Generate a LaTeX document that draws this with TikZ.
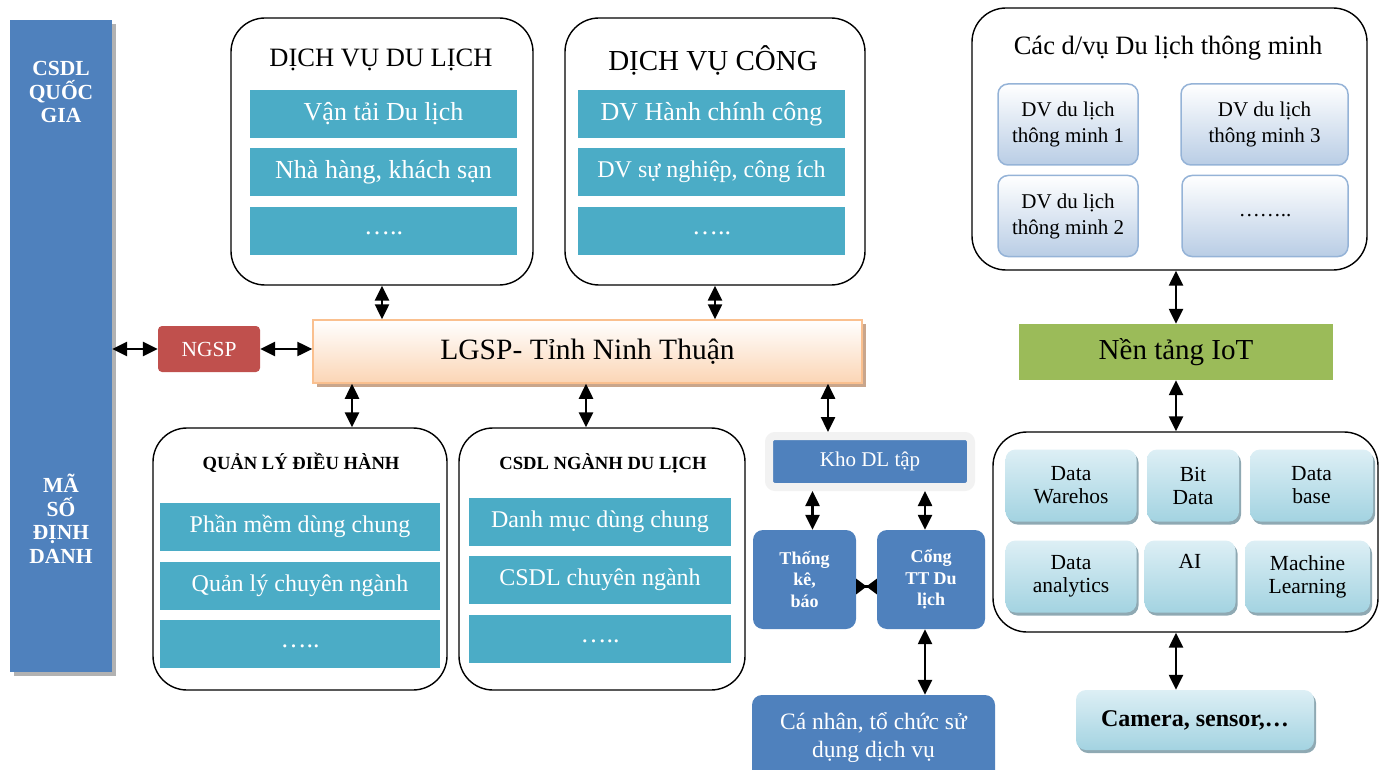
\documentclass[tikz,border=0pt]{standalone}
\usepackage{fontspec}
\setmainfont{Liberation Serif}
\usetikzlibrary{arrows.meta,shadows}

\definecolor{barblue}{HTML}{4F81BD}
\definecolor{rowteal}{HTML}{4BACC6}
\definecolor{ngspred}{HTML}{C0504D}
\definecolor{iotgreen}{HTML}{9BBB59}
\definecolor{lgspedge}{HTML}{FAC08F}
\definecolor{lgspfill}{HTML}{FBD5B5}
\definecolor{lgspshade}{HTML}{C9A68C}
\definecolor{smartedge}{HTML}{95B3D7}
\definecolor{smartfill}{HTML}{B9CDE5}
\definecolor{bdlight}{HTML}{DDEFF5}
\definecolor{bddark}{HTML}{A3D3E1}
\definecolor{bdshade}{HTML}{8FA9B3}

\begin{document}
\begin{tikzpicture}[x=1pt,y=-1pt,
    link/.style = {{Triangle[length=15pt,width=14pt]}-{Triangle[length=15pt,width=14pt]},
        line width=2.5pt},
    pinch/.style = {{Triangle[reversed,length=10.5pt,width=15pt]}-{Triangle[reversed,length=10.5pt,width=15pt]},
        line width=2.5pt},
    panel/.style = {draw, line width=1.4pt, rounded corners=34pt},
    row/.style = {fill=rowteal, text=white, minimum height=48pt,
        font=\fontsize{26}{30}\selectfont},
    bluebox/.style = {fill=barblue, text=white, rounded corners=10pt, align=center},
    smartcell/.style = {draw=smartedge, line width=1.5pt, rounded corners=10pt,
        top color=white, bottom color=smartfill, align=center,
        minimum height=81pt, font=\fontsize{21}{26}\selectfont},
    bdcell/.style = {rounded corners=10pt, top color=bdlight, bottom color=bddark,
        drop shadow={shadow xshift=2pt, shadow yshift=-3pt, fill=bdshade, opacity=1},
        align=center, minimum height=72pt, font=\fontsize{21.5}{23}\selectfont}]

\useasboundingbox (0,0) rectangle (1380,770);

% CSDL quoc gia
\node[fill=barblue, minimum width=102pt, minimum height=652pt,
    drop shadow={shadow xshift=4pt, shadow yshift=-4pt, fill=gray!60, opacity=1}]
    (csdl) at (61,346) {};
\node[text=white, align=center, font=\bfseries\fontsize{21.5}{23.5}\selectfont]
    (csdltop) at (61,92) {CSDL\\QUỐC\\GIA};
\node[text=white, align=center, font=\bfseries\fontsize{21.5}{23.5}\selectfont]
    (csdlbottom) at (61,519) {MÃ\\SỐ\\ĐỊNH\\DANH};

% NGSP and LGSP
\node[fill=ngspred, text=white, rounded corners=4pt, minimum width=102pt,
    minimum height=46pt, font=\fontsize{21.5}{24}\selectfont] (ngsp) at (209,349) {NGSP};
\node[draw=lgspedge, line width=1.5pt, top color=white, bottom color=lgspfill,
    drop shadow={shadow xshift=4pt, shadow yshift=-4pt, fill=lgspshade, opacity=1},
    minimum width=549pt, minimum height=63pt, font=\fontsize{29.5}{33}\selectfont]
    (lgsp) at (587.5,351.5) {LGSP- Tỉnh Ninh Thuận};

% Dich vu du lich
\node[panel, minimum width=302pt, minimum height=267pt] (tour) at (382,151.5) {};
\node[font=\fontsize{26.5}{30}\selectfont] (tourtitle) at (381,60) {DỊCH VỤ DU LỊCH};
\node[row, minimum width=267pt] (tour1) at (383.5,114) {Vận tải Du lịch};
\node[row, minimum width=267pt] (tour2) at (383.5,172) {Nhà hàng, khách sạn};
\node[row, minimum width=267pt] (tour3) at (383.5,230.5) {\raisebox{-8pt}{…..}};

% Dich vu cong
\node[panel, minimum width=300pt, minimum height=267pt] (public) at (715,151.5) {};
\node[font=\fontsize{29}{33}\selectfont] (publictitle) at (713,60) {DỊCH VỤ CÔNG};
\node[row, minimum width=267pt] (public1) at (711.5,114) {DV Hành chính công};
\node[row, minimum width=267pt, font=\fontsize{24}{28}\selectfont]
    (public2) at (711.5,172) {DV sự nghiệp, công ích};
\node[row, minimum width=267pt] (public3) at (711.5,230.5) {\raisebox{-8pt}{…..}};

% Quan ly dieu hanh
\node[panel, minimum width=294pt, minimum height=262pt] (ql) at (300,559) {};
\node[font=\bfseries\fontsize{18.6}{21}\selectfont] (qltitle) at (301,463)
    {QUẢN LÝ ĐIỀU HÀNH};
\node[row, minimum width=280pt, font=\fontsize{24}{28}\selectfont]
    (ql1) at (300,526.5) {Phần mềm dùng chung};
\node[row, minimum width=280pt, font=\fontsize{24}{28}\selectfont]
    (ql2) at (300,585.5) {Quản lý chuyên ngành};
\node[row, minimum width=280pt] (ql3) at (300,644) {\raisebox{-8pt}{…..}};

% CSDL nganh du lich
\node[panel, minimum width=286pt, minimum height=262pt] (nganh) at (602,559) {};
\node[font=\bfseries\fontsize{18.6}{21}\selectfont] (nganhtitle) at (603,463)
    {CSDL NGÀNH DU LỊCH};
\node[row, minimum width=262pt, font=\fontsize{24}{28}\selectfont]
    (nganh1) at (600,521.5) {Danh mục dùng chung};
\node[row, minimum width=262pt, font=\fontsize{24}{28}\selectfont]
    (nganh2) at (600,580) {CSDL chuyên ngành};
\node[row, minimum width=262pt] (nganh3) at (600,638.5) {\raisebox{-8pt}{…..}};

% Kho du lieu va cong thong tin
\node[fill=barblue, draw=gray!10, line width=8pt, rounded corners=6pt, text=white,
    minimum width=202pt, minimum height=51pt, font=\fontsize{21}{24}\selectfont]
    (kho) at (870,461.5) {Kho DL tập};
\node[bluebox, minimum width=103pt, minimum height=99pt,
    font=\bfseries\fontsize{18}{21.5}\selectfont] (thong) at (804.5,579.5) {Thống\\kê,\\báo};
\node[bluebox, minimum width=108pt, minimum height=99pt,
    font=\bfseries\fontsize{18}{21.5}\selectfont] (cong) at (931,579.5) {Cổng\\TT Du\\lịch};
\node[bluebox, minimum width=243pt, minimum height=85pt,
    font=\fontsize{23.5}{28}\selectfont] (canhan) at (873.5,737.5)
    {Cá nhân, tổ chức sử\\dụng dịch vụ};

% Du lich thong minh
\node[panel, minimum width=395pt, minimum height=262pt] (smart) at (1169.5,139) {};
\node[font=\fontsize{26.5}{30}\selectfont] (smarttitle) at (1168,48)
    {Các d/vụ Du lịch thông minh};
\node[smartcell, minimum width=140pt] (smart1) at (1068,124.5) {DV du lịch\\thông minh 1};
\node[smartcell, minimum width=167pt] (smart3) at (1264.5,124.5) {DV du lịch\\thông minh 3};
\node[smartcell, minimum width=140pt] (smart2) at (1068,216) {DV du lịch\\thông minh 2};
\node[smartcell, minimum width=166pt] (smart4) at (1265,216) {……..};

% Nen tang IoT
\node[fill=iotgreen, minimum width=314pt, minimum height=56pt,
    font=\fontsize{29}{33}\selectfont] (iot) at (1176,352) {Nền tảng IoT};

% Du lieu lon
\node[panel, minimum width=385pt, minimum height=200pt] (bigdata) at (1185.5,532) {};
\node[bdcell, minimum width=131pt] (dw) at (1071,485.5) {Data\\Warehos};
\node[bdcell, minimum width=92pt] (bit) at (1193,485.5) {Bit\\Data};
\node[bdcell, minimum width=123pt] (db) at (1311.5,485.5) {Data\\base};
\node[bdcell, minimum width=131pt] (da) at (1071,576.5) {Data\\analytics};
\node[bdcell, minimum width=91pt] (ai) at (1190,576.5) {AI\\\strut};
\node[bdcell, minimum width=125pt] (ml) at (1307.5,576.5) {Machine\\Learning};
\node[bdcell, minimum width=238pt, minimum height=60pt,
    font=\bfseries\fontsize{24}{28}\selectfont] (cam) at (1195,720) {Camera, sensor,…};

% Connectors
\draw[link] (csdl.east |- ngsp) -- (ngsp.west);
\draw[link] (ngsp.east) -- (ngsp.east -| lgsp.west);
\draw[link] (tour.south) -- (tour.south |- lgsp.north);
\draw[link] (public.south) -- (public.south |- lgsp.north);
\draw[link] ([xshift=52pt]ql.north) -- ([xshift=52pt]ql.north |- lgsp.south);
\draw[link] ([xshift=-16pt]nganh.north) -- ([xshift=-16pt]nganh.north |- lgsp.south);
\draw[link] ([xshift=-42pt]kho.north) -- ([xshift=-42pt]kho.north |- lgsp.south);
\draw[link] ([xshift=8pt]thong.north) -- ([xshift=8pt]thong.north |- kho.south);
\draw[link] ([xshift=-6pt]cong.north) -- ([xshift=-6pt]cong.north |- kho.south);
\draw[pinch] ([yshift=-7pt]thong.east) -- ([yshift=-7pt]cong.west);
\draw[link] ([xshift=-6pt]cong.south) -- ([xshift=-6pt]cong.south |- canhan.north);
\draw[link] (iot.north) -- (iot.north |- smart.south);
\draw[link] (iot.south) -- (iot.south |- bigdata.north);
\draw[link] (bigdata.south -| iot) -- (cam.north -| iot);
\end{tikzpicture}
\end{document}
